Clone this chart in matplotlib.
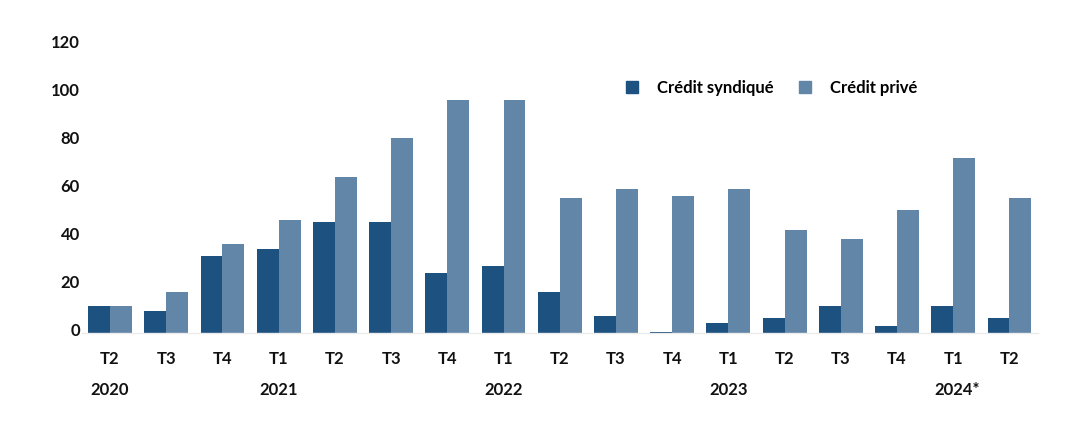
import matplotlib
matplotlib.use("Agg")
import matplotlib.pyplot as plt
from matplotlib.lines import Line2D
from matplotlib.transforms import ScaledTranslation
import numpy as np

plt.rcParams['font.family'] = ['Lato', 'DejaVu Sans']

quarters = ["T2", "T3", "T4", "T1", "T2", "T3", "T4", "T1", "T2", "T3", "T4",
            "T1", "T2", "T3", "T4", "T1", "T2"]
years = ["2020", "2021", "2022", "2023", "2024*"]
year_positions = [0, 3, 7, 11, 15]
syndique = [11, 9, 32, 35, 46, 46, 25, 28, 17, 7, 0.5, 4, 6, 11, 3, 11, 6]
prive = [11, 17, 37, 47, 65, 81, 97, 97, 56, 60, 57, 60, 43, 39, 51, 73, 56]
series_labels = ["Crédit syndiqué", "Crédit privé"]

dark = "#1d5180"
light = "#6286a8"

W, H = 1080, 432
fig = plt.figure(figsize=(W / 100, H / 100), dpi=100)
left_px, right_px = 81.9, 1037.6
bottom_px, top_px = 332.7, 332.7 - 288
ax = fig.add_axes([left_px / W, 1 - bottom_px / H,
                   (right_px - left_px) / W, (bottom_px - top_px) / H])

x = np.arange(len(quarters))
bw = 0.39
ax.bar(x - bw / 2, syndique, width=bw, color=dark, label=series_labels[0])
ax.bar(x + bw / 2, prive, width=bw, color=light, label=series_labels[1])

ax.set_xlim(-0.5, len(quarters) - 0.5)
ax.set_ylim(0, 120)
ax.set_yticks(range(0, 121, 20))
ax.set_xticks(x)
ax.set_xticklabels(quarters)

for s in ["top", "right", "left"]:
    ax.spines[s].set_visible(False)
ax.spines["bottom"].set_color("#ebebeb")
ax.spines["bottom"].set_linewidth(1.0)

ax.tick_params(axis="both", length=0, labelsize=12, labelcolor="#111111")
ax.tick_params(axis="y", pad=1.5)
ax.tick_params(axis="x", pad=13)
for lbl in ax.get_xticklabels() + ax.get_yticklabels():
    lbl.set_fontweight("bold")
shift = ScaledTranslation(0, 3 / 100, fig.dpi_scale_trans)
for lbl in ax.get_yticklabels():
    lbl.set_transform(lbl.get_transform() + shift)

for yr, pos in zip(years, year_positions):
    off = 0.06 if yr.endswith("*") else 0.0
    ax.text(pos + off, -23.8, yr, ha="center", va="center", fontsize=12,
            fontweight="bold", color="#111111", transform=ax.transData,
            clip_on=False)

handles = [Line2D([], [], marker="s", linestyle="none", markersize=8,
                  markerfacecolor=c, markeredgecolor=c) for c in (dark, light)]
fig.legend(handles, series_labels, loc="center left",
           bbox_to_anchor=(625 / W, 1 - 88 / H), ncol=2, frameon=False,
           borderpad=0, borderaxespad=0, handlelength=0.8,
           handletextpad=1.1, columnspacing=1.5,
           prop={"family": ["Lato", "DejaVu Sans"], "weight": "bold", "size": 12})

fig.savefig("out.png", dpi=100)
